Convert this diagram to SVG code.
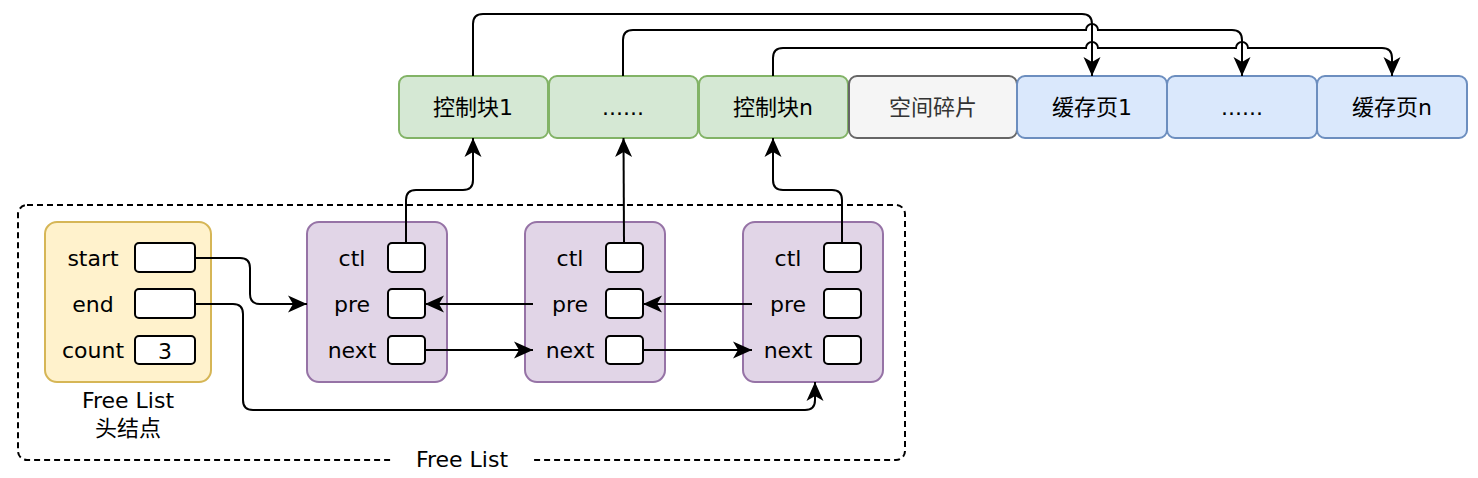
<svg xmlns="http://www.w3.org/2000/svg" width="1478" height="478" viewBox="0 0 1478 478">
<style>
text{font-family:"DejaVu Sans","Noto Sans CJK SC",sans-serif;font-size:22px;fill:#000;text-anchor:middle;dominant-baseline:central}
.g{fill:#d5e8d4;stroke:#82b366;stroke-width:2}
.gr{fill:#f5f5f5;stroke:#666666;stroke-width:2}
.b{fill:#dae8fc;stroke:#6c8ebf;stroke-width:2}
.y{fill:#fff2cc;stroke:#d6b656;stroke-width:2}
.p{fill:#e1d5e7;stroke:#9673a6;stroke-width:2}
.f{fill:#fff;stroke:#000;stroke-width:2}
.cm{fill:none;stroke:#000;stroke-width:2;marker-end:url(#arr)}
</style>
<defs>
<marker id="arr" markerUnits="userSpaceOnUse" viewBox="0 0 22 22" refX="20" refY="11" markerWidth="22" markerHeight="22" orient="auto">
<path d="M20,11 L1,2.5 L6,11 L1,19.5 Z" fill="#000"/>
</marker>
</defs>
<g id="container">
<rect x="18" y="205" width="887" height="255" rx="9" fill="none" stroke="#000" stroke-width="2" stroke-dasharray="6 4"/>
<rect x="394" y="446" width="138" height="28" fill="#fff"/>
<text x="462" y="459">Free List</text>
</g>
<g id="ctl1"><rect class="g" x="399" y="76" width="149" height="62" rx="8"/><text x="473" y="107">控制块1</text></g>
<g id="ctl2"><rect class="g" x="549" y="76" width="149" height="62" rx="8"/><text x="623" y="107">......</text></g>
<g id="ctln"><rect class="g" x="699" y="76" width="149" height="62" rx="8"/><text x="773" y="107">控制块n</text></g>
<g id="frag"><rect class="gr" x="849" y="76" width="168" height="62" rx="8"/><text x="933" y="107" style="fill:#333">空间碎片</text></g>
<g id="page1"><rect class="b" x="1017" y="76" width="150" height="62" rx="8"/><text x="1092" y="107">缓存页1</text></g>
<g id="page2"><rect class="b" x="1167" y="76" width="150" height="62" rx="8"/><text x="1242" y="107">......</text></g>
<g id="pagen"><rect class="b" x="1317" y="76" width="150" height="62" rx="8"/><text x="1392" y="107">缓存页n</text></g>
<g id="head">
<rect class="y" x="45" y="222" width="166" height="160" rx="12"/>
<text x="93" y="258">start</text>
<rect class="f" x="135" y="243" width="60" height="29" rx="4"/>
<text x="93" y="304">end</text>
<rect class="f" x="135" y="289" width="60" height="29" rx="4"/>
<text x="93" y="350">count</text>
<rect class="f" x="135" y="336" width="60" height="28" rx="4"/>
<text x="165" y="351">3</text>
<text x="128" y="400">Free List</text>
<text x="128" y="428">头结点</text>
</g>
<g id="node1">
<rect class="p" x="307" y="222" width="140" height="160" rx="12"/>
<text x="352" y="258">ctl</text>
<rect class="f" x="388" y="243" width="37" height="29" rx="4"/>
<text x="352" y="304">pre</text>
<rect class="f" x="388" y="289" width="37" height="29" rx="4"/>
<text x="352" y="350">next</text>
<rect class="f" x="388" y="336" width="37" height="28" rx="4"/>
</g>
<g id="node2">
<rect class="p" x="525" y="222" width="140" height="160" rx="12"/>
<text x="570" y="258">ctl</text>
<rect class="f" x="606" y="243" width="37" height="29" rx="4"/>
<text x="570" y="304">pre</text>
<rect class="f" x="606" y="289" width="37" height="29" rx="4"/>
<text x="570" y="350">next</text>
<rect class="f" x="606" y="336" width="37" height="28" rx="4"/>
</g>
<g id="node3">
<rect class="p" x="743" y="222" width="140" height="160" rx="12"/>
<text x="788" y="258">ctl</text>
<rect class="f" x="824" y="243" width="37" height="29" rx="4"/>
<text x="788" y="304">pre</text>
<rect class="f" x="824" y="289" width="37" height="29" rx="4"/>
<text x="788" y="350">next</text>
<rect class="f" x="824" y="336" width="37" height="28" rx="4"/>
</g>
<g id="connectors">
<path class="cm" d="M473,76 L473,24 Q473,14 483,14 L1082,14 Q1092,14 1092,24 L1092,76"/>
<path class="cm" d="M623,76 L623,40 Q623,30 633,30 L1086,30 A6,6 0 0 1 1098,30 L1232,30 Q1242,30 1242,40 L1242,76"/>
<path class="cm" d="M773,76 L773,58 Q773,48 783,48 L1086,48 A6,6 0 0 1 1098,48 L1236,48 A6,6 0 0 1 1248,48 L1382,48 Q1392,48 1392,58 L1392,76"/>
<path class="cm" d="M406,243 L406,200 Q406,190 416,190 L463,190 Q473,190 473,180 L473,138"/>
<path class="cm" d="M624,243 L623.5,138"/>
<path class="cm" d="M842,243 L842,200 Q842,190 832,190 L783,190 Q773,190 773,180 L773,138"/>
<path class="cm" d="M195,258 L240,258 Q250,258 250,268 L250,294 Q250,304 260,304 L307,304"/>
<path class="cm" d="M195,304 L233,304 Q243,304 243,314 L243,400 Q243,410 253,410 L805,410 Q815,410 815,400 L815,382"/>
<path class="cm" d="M533,304 L425,304"/>
<path class="cm" d="M752,304 L643,304"/>
<path class="cm" d="M425,350 L533,350"/>
<path class="cm" d="M643,350 L752,350"/>
</g>
</svg>
